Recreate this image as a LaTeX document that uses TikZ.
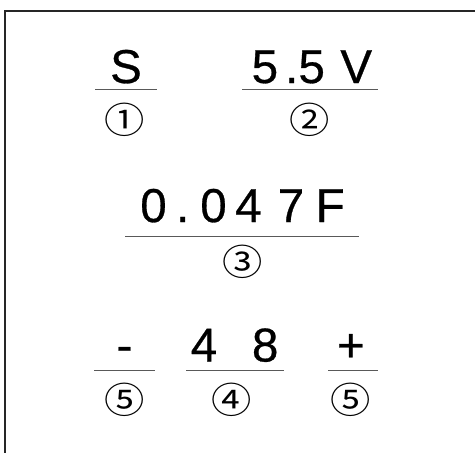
\documentclass[tikz,border=0pt]{standalone}
\usepackage{fontspec}
\setmainfont{Liberation Sans}[Kerning=Off,FakeBold=0.6]
\newfontfamily\circfont{Noto Sans CJK JP}
\begin{document}
\begin{tikzpicture}[x=1pt,y=-1pt,
  big/.style={font=\fontsize{47.5}{50}\selectfont, inner sep=0pt, anchor=base west},
  bigc/.style={font=\fontsize{47.5}{50}\selectfont, inner sep=0pt, anchor=base},
  circ/.style={font=\circfont\fontsize{36}{38}\selectfont, inner sep=0pt, anchor=center, xscale=1.12},
  rule/.style={draw=black!65, line width=0.9pt},
  frame/.style={draw=black!85, line width=2pt}]
\useasboundingbox (0,0) rectangle (475,453);
\draw[frame] (4.5,453) -- (4.5,10.5) -- (475,10.5);
% row 1
\node[bigc] (s) at (126,83) {S};
\node[big] (v) at (251.5,83) {5\hspace{7pt}.\hspace{0.2pt}5\hspace{15.5pt}V};
\draw[rule] (95,89) -- (157,89);
\draw[rule] (242,89) -- (378,89);
\node[circ] (c1) at (125,119.5) {①};
\node[circ] (c2) at (310,119.5) {②};
% row 2
\node[big] (f) at (140.1,222) {0\hspace{9.4pt}.\hspace{11pt}0\hspace{8.6pt}4\hspace{16.1pt}7\hspace{11.5pt}F};
\draw[rule] (125,236) -- (359,236);
\node[circ] (c3) at (242.5,262) {③};
% row 3
\node[bigc] (minus) at (124.5,361.5) {-};
\node[big] (n48) at (190.6,361.5) {4\hspace{34.8pt}8};
\node[bigc] (plus) at (350.8,361.5) {+};
\draw[rule] (94,370) -- (155,370);
\draw[rule] (186,370) -- (284,370);
\draw[rule] (328,370) -- (378,370);
\node[circ] (c5a) at (125,400) {⑤};
\node[circ] (c4) at (232,400) {④};
\node[circ] (c5b) at (351,400) {⑤};
\end{tikzpicture}
\end{document}
